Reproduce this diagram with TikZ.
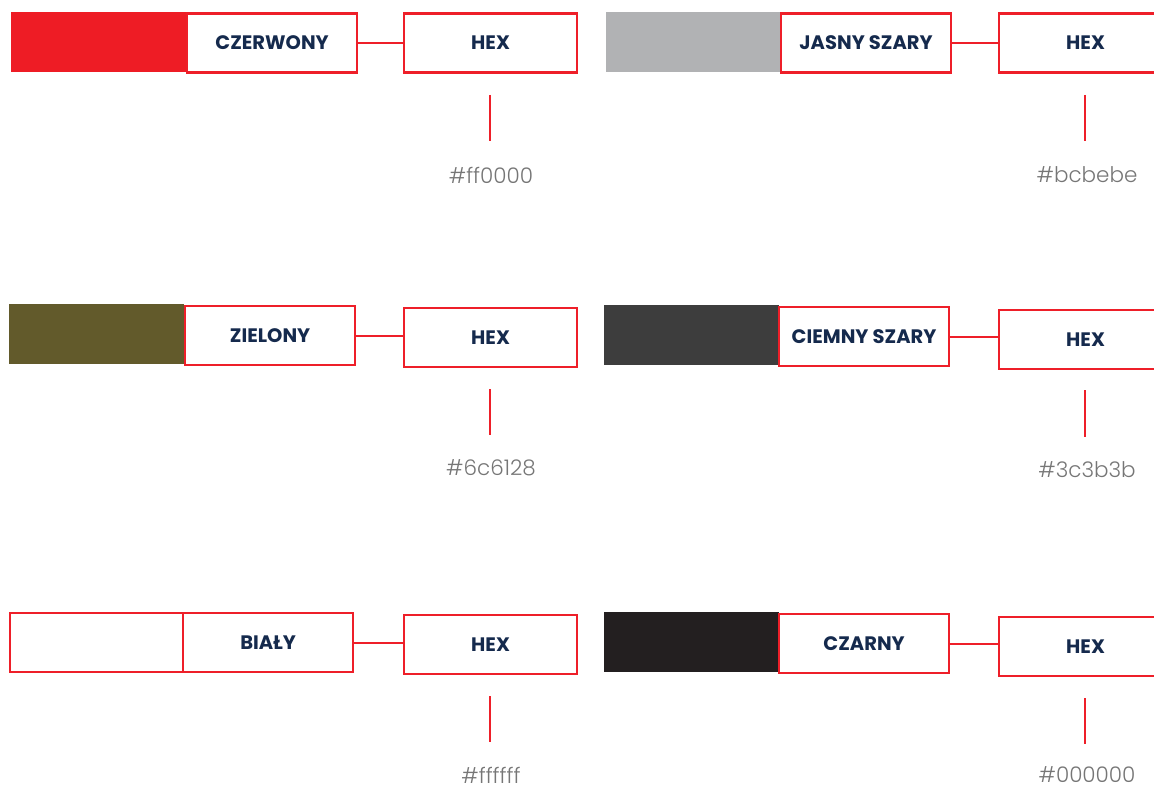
\documentclass[tikz,border=0pt]{standalone}
\usepackage{fontspec}
\setmainfont{Poppins}
\newfontfamily\lightfont{Poppins}[UprightFont=* Light]
\definecolor{brandred}{HTML}{EE1F29}
\definecolor{navy}{HTML}{152A4D}
\definecolor{hexgray}{HTML}{767676}
\definecolor{cRed}{HTML}{EE1C25}
\definecolor{cLgray}{HTML}{B1B2B4}
\definecolor{cOlive}{HTML}{625A2B}
\definecolor{cDgray}{HTML}{3D3D3D}
\definecolor{cBlack}{HTML}{231F20}
\begin{document}
\begin{tikzpicture}[x=1pt,y=-1pt,
  swatch/.style={rectangle,inner sep=0pt,minimum width=175pt,minimum height=60pt,anchor=north west},
  lblbox/.style={rectangle,draw=brandred,line width=2.2pt,fill=white,inner sep=0pt,minimum width=170pt,minimum height=59pt,anchor=north west,
    font=\fontsize{19.5}{22}\selectfont\bfseries,text=navy},
  hexbox/.style={rectangle,draw=brandred,line width=2.2pt,fill=white,inner sep=0pt,minimum width=173pt,minimum height=59pt,anchor=north west,
    font=\fontsize{19.5}{22}\selectfont\bfseries,text=navy},
  link/.style={draw=brandred,line width=2.2pt},
  hexval/.style={font=\lightfont\fontsize{21.5}{24}\selectfont,text=hexgray,inner sep=0pt},
]
\useasboundingbox (0,0) rectangle (1154,789);
\clip (0,0) rectangle (1154,789);
% ---------- Row 1 left ----------
\node[swatch,fill=cRed] (s1) at (11,12) {};
\node[lblbox] (l1) at (186,12.5) {CZERWONY};
\node[hexbox] (h1) at (403,12.5) {HEX};
\draw[link] (l1.east) -- (h1.west);
\coordinate (v1a) at (490,95); \coordinate (v1b) at (490,141);
\draw[link] (v1a) -- (v1b);
\node[hexval] (t1) at (491,175) {\#ff0000};
% ---------- Row 1 right ----------
\node[swatch,fill=cLgray] (s2) at (606,12) {};
\node[lblbox] (l2) at (780,12.5) {JASNY SZARY};
\node[hexbox] (h2) at (998,12.5) {HEX};
\draw[link] (l2.east) -- (h2.west);
\coordinate (v2a) at (1085,95); \coordinate (v2b) at (1085,141);
\draw[link] (v2a) -- (v2b);
\node[hexval] (t2) at (1087,175) {\#bcbebe};
% ---------- Row 2 left ----------
\node[swatch,fill=cOlive] (s3) at (9,304) {};
\node[lblbox] (l3) at (184,305) {ZIELONY};
\node[hexbox] (h3) at (403,307) {HEX};
\draw[link] (l3.east) -- (h3.west |- l3.east);
\coordinate (v3a) at (490,389); \coordinate (v3b) at (490,435);
\draw[link] (v3a) -- (v3b);
\node[hexval] (t3) at (491,468) {\#6c6128};
% ---------- Row 2 right ----------
\node[swatch,fill=cDgray] (s4) at (604,305) {};
\node[lblbox] (l4) at (778,306) {CIEMNY SZARY};
\node[hexbox] (h4) at (998,309) {HEX};
\draw[link] (l4.east) -- (h4.west |- l4.east);
\coordinate (v4a) at (1085,390); \coordinate (v4b) at (1085,437);
\draw[link] (v4a) -- (v4b);
\node[hexval] (t4) at (1087,470) {\#3c3b3b};
% ---------- Row 3 left ----------
\node[lblbox,minimum width=173pt] (s5) at (9,612) {};
\node[lblbox] (l5) at (182,612) {BIAŁY};
\node[hexbox] (h5) at (403,614) {HEX};
\draw[link] (l5.east) -- (h5.west |- l5.east);
\coordinate (v5a) at (490,696); \coordinate (v5b) at (490,742);
\draw[link] (v5a) -- (v5b);
\node[hexval] (t5) at (491,775) {\#ffffff};
% ---------- Row 3 right ----------
\node[swatch,fill=cBlack] (s6) at (604,612) {};
\node[lblbox] (l6) at (778,613) {CZARNY};
\node[hexbox] (h6) at (998,616) {HEX};
\draw[link] (l6.east) -- (h6.west |- l6.east);
\coordinate (v6a) at (1085,698); \coordinate (v6b) at (1085,744);
\draw[link] (v6a) -- (v6b);
\node[hexval] (t6) at (1087,774.5) {\#000000};
\end{tikzpicture}
\end{document}
